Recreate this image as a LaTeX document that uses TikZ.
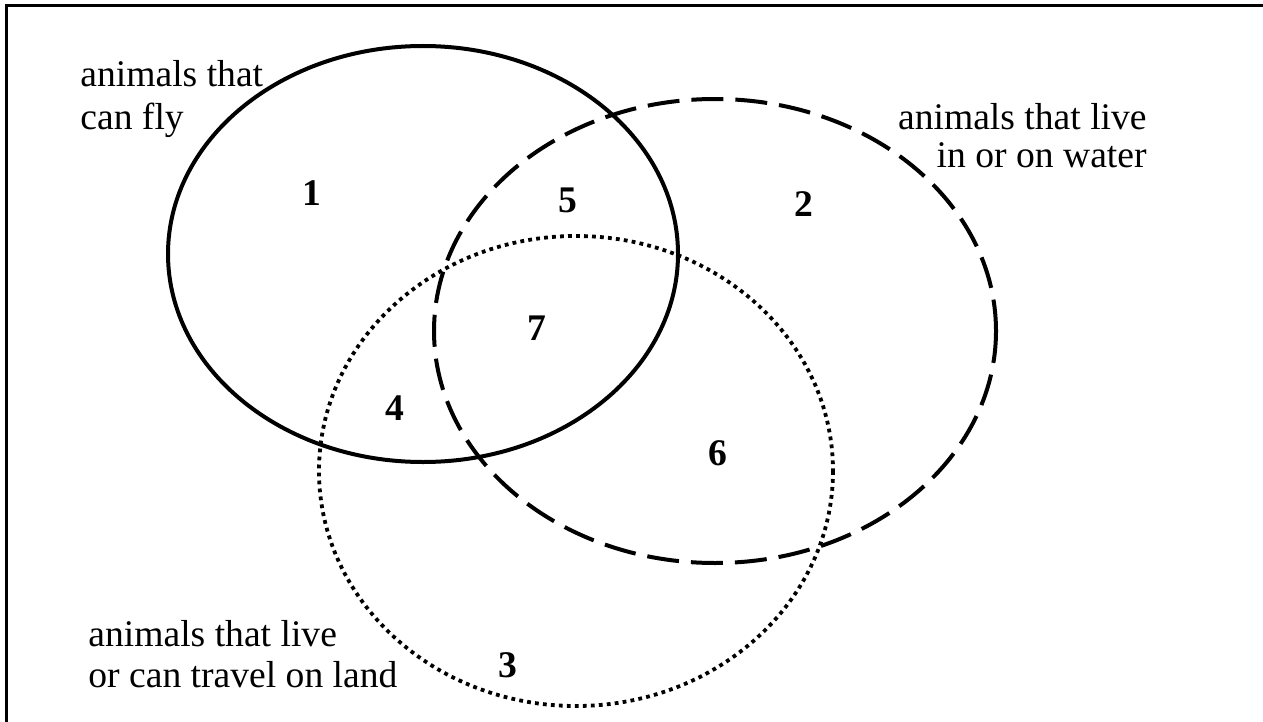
\documentclass[tikz,border=0pt]{standalone}
\usepackage{fontspec}
\setmainfont{Liberation Serif}
\usetikzlibrary{positioning}

\begin{document}
\begin{tikzpicture}[x=0.5pt,y=-0.5pt,
    setline/.style={line width=2pt},
    flyset/.style={setline},
    waterset/.style={setline,dash pattern=on 16pt off 6pt},
    landset/.style={setline,line width=1.9pt,dash pattern=on 1.9pt off 2.1pt},
    setlabel/.style={inner sep=0pt,font=\fontsize{18.8}{21.5}\selectfont},
    regionnum/.style={inner sep=0pt,font=\fontsize{18.8}{21.5}\selectfont\bfseries}]

  % page frame (top and left edges only)
  \useasboundingbox (0,0) rectangle (1263,722);
  \draw[line width=1.5pt] (6,722) -- (6,6) -- (1263,6);

  % the three sets
  \draw[flyset] (423,254) ellipse [x radius=255, y radius=208];
  \draw[waterset] (715,331) ellipse [x radius=281, y radius=232];
  \draw[landset] (576,471) ellipse [x radius=257, y radius=235];

  % set names (base = last line)
  \node[setlabel,anchor=base west,align=left] (flylabel) at (80,130)
    {animals that\\can fly};
  \node[setlabel,anchor=base east,align=right,
        font=\fontsize{18.8}{19.5}\selectfont] (waterlabel) at (1147,168)
    {animals that live\\in or on water};
  \node[setlabel,anchor=base west,align=left,
        font=\fontsize{18.8}{20.5}\selectfont] (landlabel) at (88,687)
    {animals that live\\or can travel on land};

  % region numbers
  \node[regionnum] (r1) at (312,193) {1};
  \node[regionnum] (r2) at (804,204) {2};
  \node[regionnum] (r3) at (508,665) {3};
  \node[regionnum] (r4) at (395,408) {4};
  \node[regionnum] (r5) at (568,200) {5};
  \node[regionnum] (r6) at (718,453) {6};
  \node[regionnum] (r7) at (537,328) {7};

\end{tikzpicture}
\end{document}
